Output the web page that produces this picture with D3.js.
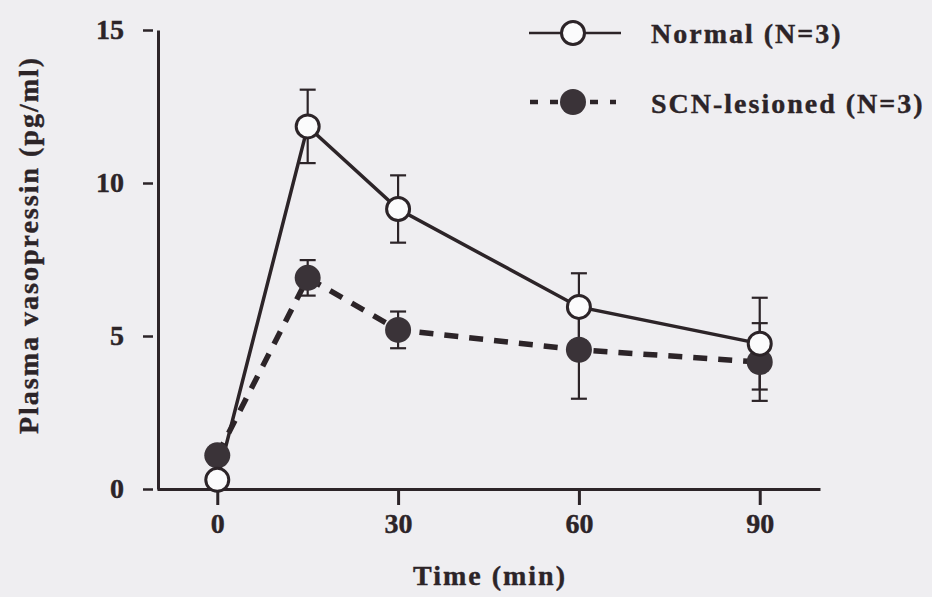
<!DOCTYPE html>
<html>
<head>
<meta charset="utf-8">
<script src="https://cdn.jsdelivr.net/npm/d3@7"></script>
<style>
  body { margin: 0; background: #efeef1; }
  svg { display: block; }
  text { font-family: "Liberation Serif", "Times New Roman", serif; font-weight: bold; fill: #2c2428; stroke: #2c2428; stroke-width: 0.4px; }
</style>
</head>
<body>
<script>
const w = 932
const h = 597
const ink = '#2c2428'

// data
const times = [0, 15, 30, 60, 90]
const xTicks = [0, 30, 60, 90]
const yTicks = [0, 5, 10, 15]
const normalMean = [0.3, 11.85, 9.15, 5.95, 4.75]
const normalSem = [0, 1.2, 1.1, 1.1, 1.5]
const scnMean = [1.1, 6.9, 5.2, 4.55, 4.15]
const scnSem = [0.3, 0.58, 0.6, 1.6, 1.27]
const seriesNames = ['Normal (N=3)', 'SCN-lesioned (N=3)']

const normal = times.map(function (t, i) { return {t: t, v: normalMean[i], e: normalSem[i]} })
const scn = times.map(function (t, i) { return {t: t, v: scnMean[i], e: scnSem[i]} })

const xScale = d3.scaleLinear().domain([-10, 100]).range([157, 820])
const yScale = d3.scaleLinear().domain([0, 15]).range([489, 30])

const svg = d3.select('body').append('svg')
    .attr('width', w)
    .attr('height', h)

svg.append('rect').attr('width', w).attr('height', h).attr('fill', '#efeef1')

// axes
const yAxis = svg.append('g')
    .attr('transform', 'translate(158,0)')
    .call(d3.axisLeft(yScale).tickValues(yTicks).tickSize(15).tickSizeOuter(0).tickPadding(19))
yAxis.select('.domain').attr('stroke', ink).attr('stroke-width', 3)
yAxis.selectAll('.tick line').attr('stroke', ink).attr('stroke-width', 2.5)
    .attr('stroke-dasharray', '0,5,10,100')
yAxis.selectAll('.tick text')
    .style('font-size', '28px')
    .attr('dy', '0.3em')

const xAxis = svg.append('g')
    .attr('transform', 'translate(0,489)')
    .call(d3.axisBottom(xScale).tickValues(xTicks).tickSize(16).tickSizeOuter(0).tickPadding(7))
xAxis.select('.domain').attr('stroke', ink).attr('stroke-width', 3)
xAxis.selectAll('.tick line').attr('stroke', ink).attr('stroke-width', 3)
xAxis.selectAll('.tick text')
    .style('font-size', '28px')
    .attr('dy', '0.75em')

svg.append('text')
    .attr('x', 490)
    .attr('y', 585)
    .attr('text-anchor', 'middle')
    .style('font-size', '28px')
    .style('letter-spacing', '2px')
    .text('Time (min)')

svg.append('text')
    .attr('transform', 'translate(38,245) rotate(-90)')
    .attr('text-anchor', 'middle')
    .style('font-size', '28px')
    .style('letter-spacing', '2px')
    .text('Plasma vasopressin (pg/ml)')

// lines
const lineFun = d3.line()
    .x(function (d) { return xScale(d.t) })
    .y(function (d) { return yScale(d.v) })

svg.append('path')
    .attr('d', lineFun(normal))
    .attr('fill', 'none')
    .attr('stroke', ink)
    .attr('stroke-width', 3.5)

svg.append('path')
    .attr('d', lineFun(scn))
    .attr('fill', 'none')
    .attr('stroke', ink)
    .attr('stroke-width', 5.5)
    .attr('stroke-dasharray', '14,11')

// error bars
function errorBars (data) {
    const g = svg.append('g')
        .attr('stroke', ink)
        .attr('stroke-width', 2.2)
    const bars = g.selectAll('g')
        .data(data.filter(function (d) { return d.e > 0 }))
        .enter()
        .append('g')
    bars.append('line')
        .attr('x1', function (d) { return xScale(d.t) })
        .attr('x2', function (d) { return xScale(d.t) })
        .attr('y1', function (d) { return yScale(d.v + d.e) })
        .attr('y2', function (d) { return yScale(d.v - d.e) })
    bars.append('line')
        .attr('x1', function (d) { return xScale(d.t) - 8 })
        .attr('x2', function (d) { return xScale(d.t) + 8 })
        .attr('y1', function (d) { return yScale(d.v + d.e) })
        .attr('y2', function (d) { return yScale(d.v + d.e) })
    bars.append('line')
        .attr('x1', function (d) { return xScale(d.t) - 8 })
        .attr('x2', function (d) { return xScale(d.t) + 8 })
        .attr('y1', function (d) { return yScale(d.v - d.e) })
        .attr('y2', function (d) { return yScale(d.v - d.e) })
}
errorBars(normal)
errorBars(scn)

// points
svg.append('g').selectAll('circle')
    .data(scn)
    .enter()
    .append('circle')
    .attr('cx', function (d) { return xScale(d.t) })
    .attr('cy', function (d) { return yScale(d.v) })
    .attr('r', 13)
    .attr('fill', '#3a3338')

svg.append('g').selectAll('circle')
    .data(normal)
    .enter()
    .append('circle')
    .attr('cx', function (d) { return xScale(d.t) })
    .attr('cy', function (d) { return yScale(d.v) })
    .attr('r', 11.5)
    .attr('fill', '#fbfbfc')
    .attr('stroke', ink)
    .attr('stroke-width', 3)

// legend
const legend = svg.append('g')

legend.append('line')
    .attr('x1', 529).attr('x2', 621).attr('y1', 33).attr('y2', 33)
    .attr('stroke', ink).attr('stroke-width', 2.5)
legend.append('circle')
    .attr('cx', 573).attr('cy', 33).attr('r', 11.5)
    .attr('fill', '#fbfbfc').attr('stroke', ink).attr('stroke-width', 3)
legend.append('text')
    .attr('x', 651).attr('y', 43)
    .style('font-size', '28px')
    .style('letter-spacing', '2px')
    .text(seriesNames[0])

legend.append('line')
    .attr('x1', 530).attr('x2', 616).attr('y1', 102).attr('y2', 102)
    .attr('stroke', ink).attr('stroke-width', 4.5)
    .attr('stroke-dasharray', '8,12')
legend.append('circle')
    .attr('cx', 573).attr('cy', 102).attr('r', 13)
    .attr('fill', '#3a3338')
legend.append('text')
    .attr('x', 651).attr('y', 113)
    .style('font-size', '28px')
    .style('letter-spacing', '2px')
    .text(seriesNames[1])
</script>
</body>
</html>
